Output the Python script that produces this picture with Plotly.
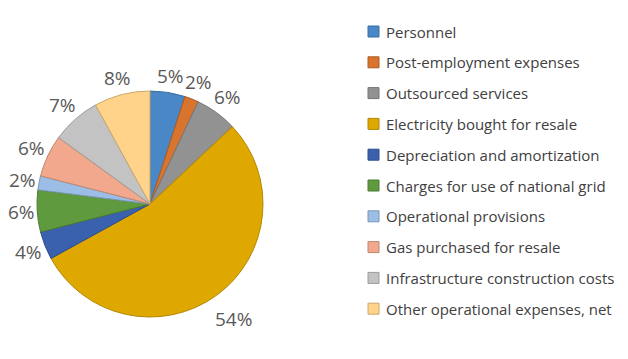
import math
import plotly.graph_objects as go

categories = [
    "Personnel",
    "Post-employment expenses",
    "Outsourced services",
    "Electricity bought for resale",
    "Depreciation and amortization",
    "Charges for use of national grid",
    "Operational provisions",
    "Gas purchased for resale",
    "Infrastructure construction costs",
    "Other operational expenses, net",
]
values = [5, 2, 6, 54, 4, 6, 2, 6, 7, 8]
colors = ["#4A87C6", "#D9742E", "#929292", "#DFA800", "#3A61AD",
          "#5F9A3F", "#9BBDE6", "#F1A88C", "#C3C3C3", "#FFD38A"]
borders = ["#3B6E9F", "#AE5B22", "#767676", "#B38700", "#2E4D8A",
           "#4C7B32", "#7C97B8", "#C1866F", "#9C9C9C", "#CCA86E"]

W, H = 628, 359
cx, cy, r = 150, 204, 113
label_size = 19

fig = go.Figure(go.Pie(
    labels=categories,
    values=values,
    sort=False,
    direction="clockwise",
    rotation=0,
    marker=dict(colors=colors, line=dict(color=borders, width=1)),
    textinfo="none",
    showlegend=False,
    domain=dict(x=[(cx - r) / W, (cx + r) / W],
                y=[(H - cy - r) / H, (H - cy + r) / H]),
    hoverinfo="label+percent",
))

shapes, annots = [], []

# percentage labels just outside each slice, at the slice's mid angle
total = sum(values)
cum = 0
for v in values:
    mid = (cum + v / 2) / total * 2 * math.pi
    cum += v
    txt = f"{round(100 * v / total)}%"
    w = 0.55 * label_size * len(txt) * 0.9
    h = 18
    s, c = math.sin(mid), math.cos(mid)
    d = r + 6 + abs(s) * w / 2 + abs(c) * h / 2 + max(0, len(txt) - 2) * 8
    px, py = cx + d * s, cy - d * c
    annots.append(dict(text=txt, xref="paper", yref="paper",
                       x=px / W, y=(H - py) / H, xanchor="center", yanchor="middle",
                       showarrow=False,
                       font=dict(family="Open Sans", size=label_size, color="#595959")))

# legend drawn from the category list
y0, dy = 31.5, 30.8
for i, (cat, col, bc) in enumerate(zip(categories, colors, borders)):
    yc = y0 + i * dy
    shapes.append(dict(type="rect", xref="paper", yref="paper",
                       x0=368 / W, x1=379 / W,
                       y0=(H - yc - 5.5) / H, y1=(H - yc + 5.5) / H,
                       fillcolor=col, line=dict(color=bc, width=1)))
    annots.append(dict(text=cat, xref="paper", yref="paper",
                       x=384 / W, y=(H - yc) / H, xanchor="left", yanchor="middle",
                       showarrow=False,
                       font=dict(family="Open Sans", size=15, color="#404040")))

fig.update_layout(
    width=W, height=H,
    margin=dict(l=0, r=0, t=0, b=0),
    paper_bgcolor="white",
    plot_bgcolor="white",
    shapes=shapes,
    annotations=annots,
)

fig.write_html("out.html", config={"displayModeBar": False},
               post_script="document.body.style.margin='0';")
